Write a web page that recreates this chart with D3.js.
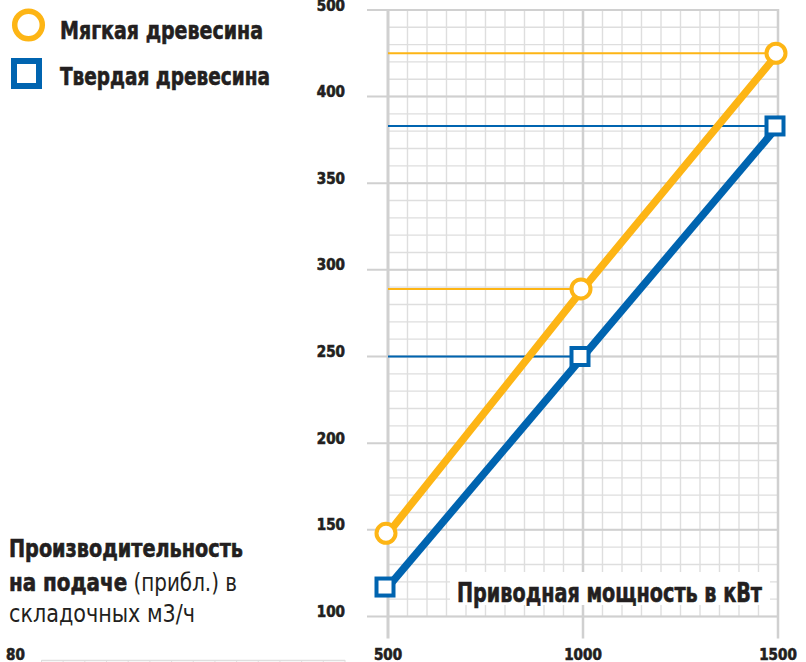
<!DOCTYPE html>
<html>
<head>
<meta charset="utf-8">
<script src="https://cdn.jsdelivr.net/npm/d3@7"></script>
<style>
  body { margin: 0; background: #fff; }
  svg { display: block; }
  text { font-family: "Liberation Sans Narrow", "Arial Narrow", "DejaVu Sans Condensed", sans-serif; fill: #231f20; }
  text.heavy, tspan.heavy { font-weight: bold; stroke: #231f20; stroke-width: 0.6px; }
</style>
</head>
<body>
<div id="chart"></div>
<script>
const powerKw = [500, 1000, 1500]
const softwood = [148, 289, 450]
const hardwood = [117, 250, 383]
const yTickValues = [100, 150, 200, 250, 300, 350, 400, 500]
const yTickLabels = ['100', '150', '200', '250', '300', '350', '400', '500']
const xTickValues = [500, 1000, 1500]
const xTickLabels = ['500', '1000', '1500']
const seriesNames = ['Мягкая древесина', 'Твердая древесина']

const WIDTH = 806
const HEIGHT = 662
const YELLOW = '#fdb515'
const BLUE = '#0064b0'
const MINOR = '#dedede'
const MAJOR = '#d0d0d0'

const svg = d3.select('#chart').append('svg')
                              .attr('width', WIDTH)
                              .attr('height', HEIGHT)

const x = d3.scaleLinear().domain([500, 1500]).range([388, 778])
// the axis is broken: 400 -> 500 takes the room of 50 units
const y = d3.scaleLinear().domain([100, 400, 500]).range([616.5, 96.5, 10])

// fitting text to the measured width of the original lettering
const fit = (sel, w) => sel.attr('textLength', w).attr('lengthAdjust', 'spacingAndGlyphs')

// ---- grid
const grid = svg.append('g').attr('class', 'grid')
const minorY = d3.range(100, 400, 10).concat(d3.range(400, 501, 20))
const minorX = d3.range(500, 1501, 50)

grid.selectAll('line.minor-y')
    .data(minorY)
    .enter().append('line')
      .attr('class', 'minor-y')
      .attr('x1', x(500)).attr('x2', x(1500))
      .attr('y1', d => y(d)).attr('y2', d => y(d))
      .attr('stroke', MINOR).attr('stroke-width', 1.4)

grid.selectAll('line.minor-x')
    .data(minorX)
    .enter().append('line')
      .attr('class', 'minor-x')
      .attr('x1', d => x(d)).attr('x2', d => x(d))
      .attr('y1', y(500)).attr('y2', y(100))
      .attr('stroke', MINOR).attr('stroke-width', 1.4)

grid.selectAll('line.major-y')
    .data(yTickValues)
    .enter().append('line')
      .attr('class', 'major-y')
      .attr('x1', x(500) - 21).attr('x2', x(1500) + 1)
      .attr('y1', d => y(d)).attr('y2', d => y(d))
      .attr('stroke', MAJOR).attr('stroke-width', 2)

grid.selectAll('line.major-x')
    .data(xTickValues)
    .enter().append('line')
      .attr('class', 'major-x')
      .attr('x1', d => x(d)).attr('x2', d => x(d))
      .attr('y1', y(500) - 1).attr('y2', y(100) + 22)
      .attr('stroke', MAJOR).attr('stroke-width', (d, i) => i === 0 ? 3 : 2.5)

// ---- tick labels
svg.append('g').selectAll('text')
   .data(yTickValues)
   .enter().append('text')
     .attr('class', 'heavy')
     .attr('x', 345)
     .attr('y', d => y(d) + 0.5)
     .attr('text-anchor', 'end')
     .attr('font-size', 15)
     .text((d, i) => yTickLabels[i])

svg.append('g').selectAll('text')
   .data(xTickValues)
   .enter().append('text')
     .attr('class', 'heavy')
     .attr('x', d => x(d))
     .attr('y', 659.5)
     .attr('text-anchor', 'middle')
     .attr('font-size', 15)
     .text((d, i) => xTickLabels[i])

// ---- x axis title on white
svg.append('rect')
   .attr('x', 450).attr('y', 572)
   .attr('width', 320).attr('height', 33)
   .attr('fill', '#fff')
fit(svg.append('text')
       .attr('class', 'heavy')
       .attr('x', 457)
       .attr('y', 602)
       .attr('font-size', 26)
       .text('Приводная мощность в кВт'), 305)

// ---- guide lines from the axis to each point
const series = [
  { name: seriesNames[0], values: softwood, color: YELLOW, marker: 'circle' },
  { name: seriesNames[1], values: hardwood, color: BLUE, marker: 'square' }
]

series.forEach(s => {
  svg.append('g').selectAll('line')
     .data(s.values.slice(1))
     .enter().append('line')
       .attr('x1', x(500))
       .attr('x2', (d, i) => x(powerKw[i + 1]))
       .attr('y1', d => y(d)).attr('y2', d => y(d))
       .attr('stroke', s.color)
       .attr('stroke-width', 2)
})

const line = d3.line().x((d, i) => x(powerKw[i])).y(d => y(d))

series.forEach(s => {
  svg.append('path')
     .datum(s.values)
     .attr('d', line)
     .attr('fill', 'none')
     .attr('stroke', s.color)
     .attr('stroke-width', 7.5)
})

series.forEach(s => {
  const g = svg.append('g')
  if (s.marker === 'circle') {
    g.selectAll('circle')
     .data(s.values)
     .enter().append('circle')
       .attr('cx', (d, i) => x(powerKw[i]) - 2)
       .attr('cy', d => y(d))
       .attr('r', 9.5)
       .attr('fill', '#fff')
       .attr('stroke', s.color)
       .attr('stroke-width', 4)
  } else {
    g.selectAll('rect')
     .data(s.values)
     .enter().append('rect')
       .attr('x', (d, i) => x(powerKw[i]) - 11.5)
       .attr('y', d => y(d) - 8.5)
       .attr('width', 17).attr('height', 17)
       .attr('fill', '#fff')
       .attr('stroke', s.color)
       .attr('stroke-width', 4)
  }
})

// ---- legend
const legend = svg.append('g').attr('class', 'legend')
legend.append('circle')
      .attr('cx', 28.5).attr('cy', 25)
      .attr('r', 13.8)
      .attr('fill', '#fff')
      .attr('stroke', YELLOW)
      .attr('stroke-width', 5.5)
legend.append('rect')
      .attr('x', 14).attr('y', 61)
      .attr('width', 25).attr('height', 25)
      .attr('fill', '#fff')
      .attr('stroke', BLUE)
      .attr('stroke-width', 6)

legend.selectAll('text')
      .data(seriesNames)
      .enter().append('text')
        .attr('class', 'heavy')
        .attr('x', 60)
        .attr('y', (d, i) => 39 + i * 46)
        .attr('font-size', 25)
        .text(d => d)
        .each(function (d, i) { fit(d3.select(this), i === 0 ? 203 : 210) })

// ---- y axis title, bottom left
const title = svg.append('g').attr('class', 'y-title')
fit(title.append('text')
         .attr('class', 'heavy')
         .attr('x', 9).attr('y', 557)
         .attr('font-size', 24)
         .text('Производительность'), 234)

const t2 = title.append('text')
                .attr('x', 9).attr('y', 591)
                .attr('font-size', 24)
t2.append('tspan').attr('class', 'heavy').text('на подаче')
t2.append('tspan').text(' (прибл.) в')
fit(t2, 228)

fit(title.append('text')
         .attr('x', 9).attr('y', 622)
         .attr('font-size', 24)
         .text('складочных м3/ч'), 186)

// ---- top of the next chart, cut off by the page edge
const below = svg.append('g').attr('class', 'next-chart')
below.append('text')
     .attr('class', 'heavy')
     .attr('x', 6).attr('y', 660)
     .attr('font-size', 15)
     .text('80')
const nextX = d3.scaleLinear().domain([0, 14]).range([41.5, 345])
below.append('line')
     .attr('x1', nextX(0)).attr('x2', nextX(14))
     .attr('y1', 660.5).attr('y2', 660.5)
     .attr('stroke', MINOR).attr('stroke-width', 1.5)
below.selectAll('line.tick')
     .data(d3.range(0, 15))
     .enter().append('line')
       .attr('class', 'tick')
       .attr('x1', d => nextX(d)).attr('x2', d => nextX(d))
       .attr('y1', 660).attr('y2', 662)
       .attr('stroke', MINOR).attr('stroke-width', 1)
</script>
</body>
</html>
